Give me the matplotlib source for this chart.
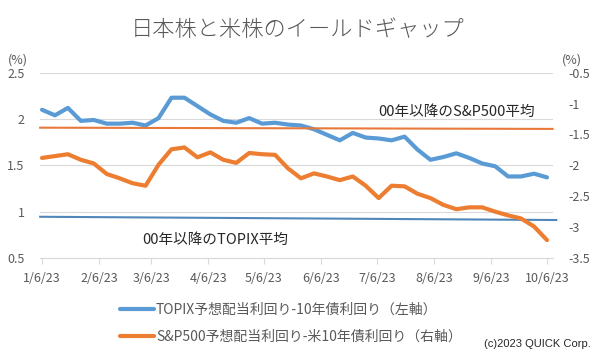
import matplotlib
matplotlib.use('Agg')
import matplotlib.pyplot as plt
import pandas as pd

plt.rcParams['font.family'] = ['Noto Sans CJK JP', 'DejaVu Sans']

# 週次データ (2023/1/6 - 2023/10/6)
dates = pd.date_range('2023-01-06', '2023-10-06', freq='7D')
topix_gap = [2.10, 2.04, 2.12, 1.98, 1.99, 1.95, 1.95, 1.96, 1.93, 2.01,
             2.23, 2.23, 2.14, 2.05, 1.98, 1.96, 2.01, 1.95, 1.96, 1.94,
             1.93, 1.89, 1.83, 1.77, 1.85, 1.80, 1.79, 1.77, 1.81, 1.67,
             1.56, 1.59, 1.63, 1.58, 1.52, 1.49, 1.38, 1.38, 1.41, 1.37]
spx_gap = [-1.88, -1.85, -1.82, -1.91, -1.97, -2.14, -2.21, -2.29, -2.33, -1.99,
           -1.74, -1.71, -1.87, -1.79, -1.91, -1.96, -1.80, -1.82, -1.83, -2.05,
           -2.21, -2.13, -2.18, -2.24, -2.18, -2.33, -2.53, -2.33, -2.34, -2.46,
           -2.53, -2.64, -2.71, -2.68, -2.68, -2.75, -2.81, -2.86, -2.99, -3.21]

# 00年以降の平均線 (始点, 終点)
topix_avg_dates = pd.to_datetime(['2023-01-05', '2023-10-11'])
topix_avg = [0.945, 0.91]
spx_avg_dates = pd.to_datetime(['2023-01-05', '2023-10-09'])
spx_avg = [-1.39, -1.41]

left_ticks = [0.5, 1, 1.5, 2, 2.5]
right_ticks = [-3.5, -3, -2.5, -2, -1.5, -1, -0.5]
xtick_dates = pd.to_datetime(['2023-01-06', '2023-02-06', '2023-03-06', '2023-04-06', '2023-05-06',
                              '2023-06-06', '2023-07-06', '2023-08-06', '2023-09-06', '2023-10-06'])

label_topix = 'TOPIX予想配当利回り-10年債利回り（左軸）'
label_spx = 'S&P500予想配当利回り-米10年債利回り（右軸）'

blue = '#5B9BD5'
orange = '#ED7D31'
gray_txt = '#595959'

fig = plt.figure(figsize=(5.95, 3.55), dpi=100)
ax = fig.add_axes([40/595, 1-258/355, 513/595, (258-72.7)/355])
ax2 = ax.twinx()

ax.plot(topix_avg_dates, topix_avg, color='#4F87BA', lw=1.5, zorder=2, clip_on=False)
l1, = ax.plot(dates, topix_gap, color=blue, lw=3, zorder=3,
              solid_joinstyle='round', solid_capstyle='round')
ax2.plot(spx_avg_dates, spx_avg, color='#E8793A', lw=1.5, zorder=2, clip_on=False)
l2, = ax2.plot(dates, spx_gap, color=orange, lw=3, zorder=3,
               solid_joinstyle='round', solid_capstyle='round')

ax.set_ylim(0.5, 2.5)
ax2.set_ylim(-3.5, -0.5)
ax.set_xlim(pd.Timestamp('2023-01-04 22:00'), pd.Timestamp('2023-10-09 06:00'))

ax.set_yticks(left_ticks)
ax.set_yticklabels(['%g' % v for v in left_ticks])
ax2.set_yticks(right_ticks)
ax2.set_yticklabels(['%g' % v for v in right_ticks])
ax.set_xticks(xtick_dates)
ax.set_xticklabels(['%d/%d/%s' % (d.month, d.day, d.strftime('%y')) for d in xtick_dates])

ax.grid(axis='y', color='#D9D9D9', lw=0.8)
ax.set_axisbelow(True)
for a in (ax, ax2):
    for s in ('top', 'left', 'right'):
        a.spines[s].set_visible(False)
    a.spines['bottom'].set_color('#D9D9D9')
ax2.spines['bottom'].set_visible(False)

ax.tick_params(axis='y', length=0, pad=11, labelsize=9, labelcolor=gray_txt)
ax2.tick_params(axis='y', length=0, pad=11, labelsize=9, labelcolor=gray_txt)
ax.tick_params(axis='x', length=4, color='#D9D9D9', pad=6, labelsize=9, labelcolor=gray_txt)

# タイトル・注記
fig.text(298/595, 1-30/355, '日本株と米株のイールドギャップ', ha='center', va='center',
         fontsize=16, color=gray_txt, fontweight='light')
fig.text(18/595, 1-60/355, '(%)', ha='center', va='center', fontsize=9, color=gray_txt)
fig.text(572/595, 1-60/355, '(%)', ha='center', va='center', fontsize=9, color=gray_txt)
fig.text(378/595, 1-112/355, '00年以降のS&P500平均', ha='left', va='center', fontsize=10.5, color='#262626')
fig.text(142/595, 1-240/355, '00年以降のTOPIX平均', ha='left', va='center', fontsize=10.5, color='#262626')

fig.legend([l1, l2], [label_topix, label_spx], loc='center left',
           bbox_to_anchor=(120/595, 1-323/355), frameon=False, fontsize=10,
           handlelength=2.45, handletextpad=0.15, labelspacing=0.95,
           borderpad=0, borderaxespad=0, labelcolor=gray_txt)

fig.text(591/595, 1-344/355, '(c)2023 QUICK Corp.', ha='right', va='center',
         fontsize=8, family='Liberation Sans', color='#262626')

plt.savefig('out.png', dpi=100)
